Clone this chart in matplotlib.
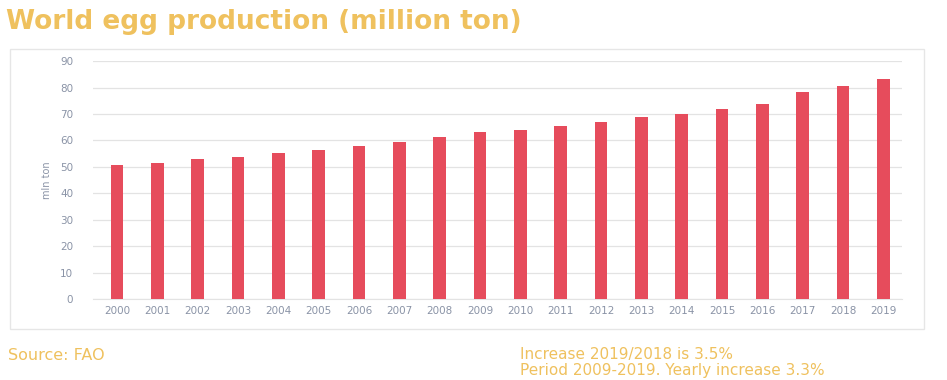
import matplotlib.pyplot as plt
from matplotlib.patches import Rectangle

years = [str(y) for y in range(2000, 2020)]
production = [50.7, 51.6, 53.1, 53.8, 55.3, 56.5, 57.9, 59.5, 61.5, 63.1,
              64.1, 65.5, 67.0, 68.8, 70.0, 72.0, 73.9, 78.5, 80.6, 83.3]
yticks = list(range(0, 100, 10))

gold = '#EFC15E'
grey = '#8A93A6'

fig = plt.figure(figsize=(9.47, 3.8), dpi=100)
ax = fig.add_axes([0.098, 0.213, 0.854, 0.626])

ax.bar(range(len(years)), production, width=0.31, color='#E64C5C', zorder=3)
ax.set_xlim(-0.6, len(years) - 0.55)
ax.set_ylim(0, 90)
ax.set_yticks(yticks)
ax.set_xticks(range(len(years)))
ax.set_xticklabels(years)
ax.tick_params(axis='both', length=0, colors=grey, labelsize=7.5)
ax.tick_params(axis='y', pad=14)
ax.tick_params(axis='x', pad=5)
ax.grid(axis='y', color='#E3E3E3', linewidth=0.9, zorder=0)
for s in ['top', 'right', 'left']:
    ax.spines[s].set_visible(False)
ax.spines['bottom'].set_color('#E3E3E3')
ax.set_ylabel('mln ton', color=grey, fontsize=7, labelpad=6)

# frame around the chart
fig.patches.append(Rectangle((10 / 947, 1 - 329 / 380), 914 / 947, 280 / 380,
                             transform=fig.transFigure, fill=False,
                             edgecolor='#E6E6E6', linewidth=1))

fig.text(6 / 947, 1 - 22 / 380, 'World egg production (million ton)',
         color=gold, fontsize=19, fontweight='bold', family='DejaVu Sans',
         va='center')
fig.text(8 / 947, 1 - 356 / 380, 'Source: FAO', color=gold, fontsize=11.5,
         family='DejaVu Sans', va='center')
fig.text(520 / 947, 1 - 355 / 380, 'Increase 2019/2018 is 3.5%', color=gold,
         fontsize=11, family='DejaVu Sans', va='center')
fig.text(520 / 947, 1 - 371 / 380, 'Period 2009-2019. Yearly increase 3.3%',
         color=gold, fontsize=11, family='DejaVu Sans', va='center')

fig.savefig('out.png', dpi=100)
